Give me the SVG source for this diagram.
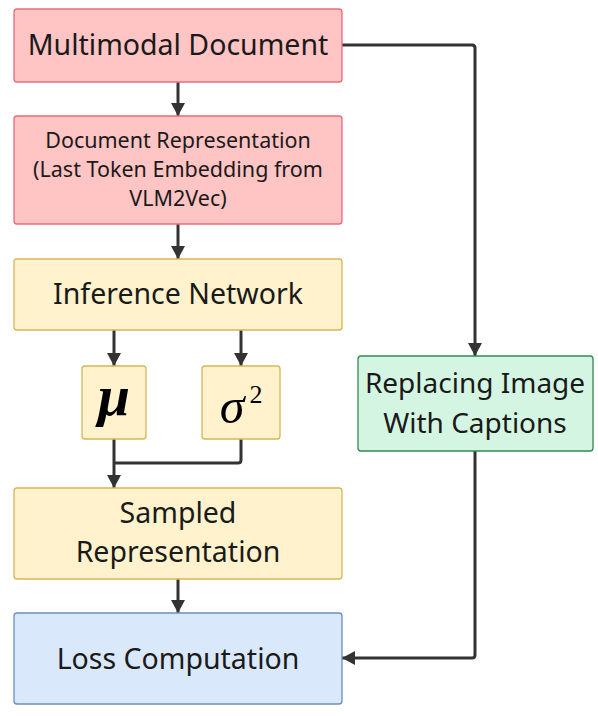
<svg xmlns="http://www.w3.org/2000/svg" width="598" height="716" viewBox="0 0 598 716">
<defs>
<style>
.t{font-family:"Noto Sans","Open Sans","DejaVu Sans",sans-serif;fill:#1a1a1a;text-anchor:middle}
.red{fill:#ffc4c4;stroke:#ea6b7a;stroke-width:1.3}
.yel{fill:#fff2cc;stroke:#d6b656;stroke-width:1.3}
.grn{fill:#d5f5e3;stroke:#2e8b4e;stroke-width:1.3}
.blu{fill:#dae8fc;stroke:#6c8ebf;stroke-width:1.3}
.c{fill:none;stroke:#333;stroke-width:3;stroke-linejoin:round}
.m{font-family:"Liberation Serif","DejaVu Serif",serif;font-style:italic;fill:#000;text-anchor:middle}
</style>
<marker id="ah" viewBox="0 0 13 14" refX="13" refY="7" markerWidth="13" markerHeight="14" markerUnits="userSpaceOnUse" orient="auto">
<path d="M0,0 L13,7 L0,14 z" fill="#333"/>
</marker>
</defs>
<g id="connectors">
<path class="c" d="M178,82 V116" marker-end="url(#ah)"/>
<path class="c" d="M178,224 V259" marker-end="url(#ah)"/>
<path class="c" d="M114,330 V366" marker-end="url(#ah)"/>
<path class="c" d="M241,330 V366" marker-end="url(#ah)"/>
<path class="c" d="M114,439 V488" marker-end="url(#ah)"/>
<path class="c" d="M241,439 V460 Q241,463 238,463 H114"/>
<path class="c" d="M178,579 V613" marker-end="url(#ah)"/>
<path class="c" d="M342,45 H472 Q475,45 475,48 V356" marker-end="url(#ah)"/>
<path class="c" d="M475,451 V655 Q475,658 472,658 H342" marker-end="url(#ah)"/>
</g>
<g id="multimodal-document">
<rect class="red" x="14" y="9" width="328" height="73" rx="3"/>
<text class="t" x="178" y="55" font-size="28.5">Multimodal Document</text>
</g>
<g id="document-representation">
<rect class="red" x="14" y="116" width="328" height="108" rx="3"/>
<text class="t" x="178" y="148" font-size="21.5">Document Representation</text>
<text class="t" x="178" y="177" font-size="21.5">(Last Token Embedding from</text>
<text class="t" x="178" y="206" font-size="21.5">VLM2Vec)</text>
</g>
<g id="inference-network">
<rect class="yel" x="14" y="259" width="328" height="71" rx="3"/>
<text class="t" x="178" y="304" font-size="28.5">Inference Network</text>
</g>
<g id="mu">
<rect class="yel" x="82" y="366" width="64" height="73" rx="3"/>
<text class="m" x="114" y="415" font-size="58" font-weight="bold">μ</text>
</g>
<g id="sigma2">
<rect class="yel" x="202" y="366" width="78" height="73" rx="3"/>
<text class="m" x="232" y="423" font-size="50">σ</text>
<text x="256" y="403" font-size="26" font-family="Liberation Serif,serif" text-anchor="middle">2</text>
</g>
<g id="sampled-representation">
<rect class="yel" x="14" y="488" width="328" height="91" rx="3"/>
<text class="t" x="178" y="523" font-size="28.5">Sampled</text>
<text class="t" x="178" y="562" font-size="28.5">Representation</text>
</g>
<g id="loss-computation">
<rect class="blu" x="14" y="613" width="328" height="91" rx="3"/>
<text class="t" x="178" y="669" font-size="28.5">Loss Computation</text>
</g>
<g id="replacing-image">
<rect class="grn" x="358" y="356" width="235" height="95" rx="3"/>
<text class="t" x="475" y="393" font-size="28">Replacing Image</text>
<text class="t" x="475" y="433" font-size="28">With Captions</text>
</g>
</svg>
